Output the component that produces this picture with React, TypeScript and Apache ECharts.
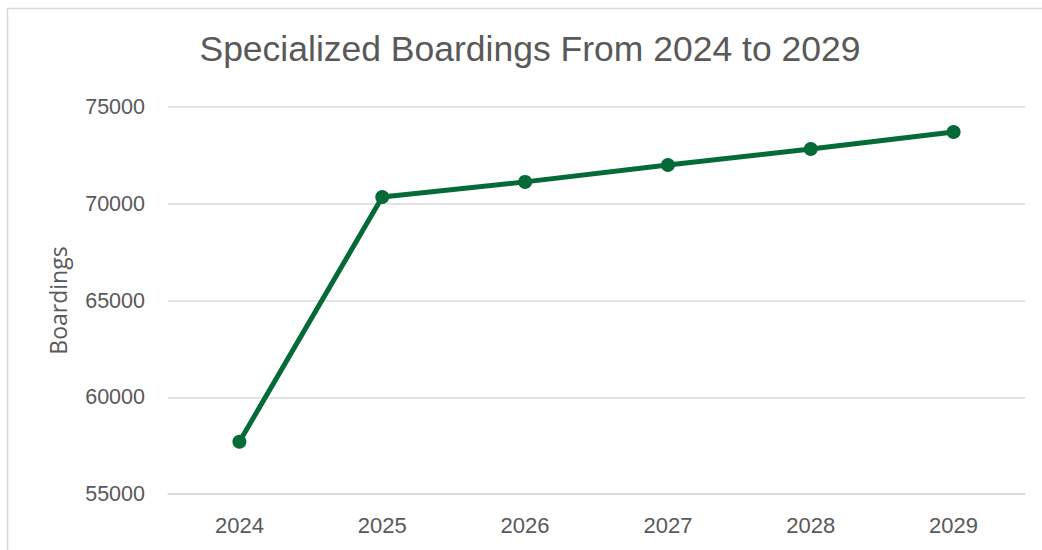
import React, { useEffect, useRef } from "react";
import * as echarts from "echarts";

const years = ["2024", "2025", "2026", "2027", "2028", "2029"];
const boardings = [57700, 70350, 71130, 72000, 72830, 73710];
const yTicks = { min: 55000, max: 75000, interval: 5000 };
const titleText = "Specialized Boardings From 2024 to 2029";
const yAxisName = "Boardings";

export default function App() {
  const ref = useRef<HTMLDivElement>(null);
  useEffect(() => {
    if (!ref.current) return;
    const chart = echarts.init(ref.current, null, { renderer: "svg" });
    const font = "'Liberation Sans', Arial, sans-serif";
    chart.setOption({
      animation: false,
      backgroundColor: "#ffffff",
      title: {
        text: titleText,
        left: 525,
        textAlign: "center",
        top: 26,
        textStyle: { fontFamily: font, fontSize: 35.5, fontWeight: "normal", color: "#595959" },
      },
      graphic: [
        {
          type: "rect",
          shape: { x: 7.5, y: 8.5, width: 1100, height: 600 },
          style: { fill: "none", stroke: "#d9d9d9", lineWidth: 1.5 },
          silent: true,
          z: 0,
        },
      ],
      grid: { left: 168, right: 17, top: 107, bottom: 56, containLabel: false },
      xAxis: {
        type: "category",
        data: years,
        boundaryGap: true,
        axisLine: { show: true, lineStyle: { color: "#d9d9d9", width: 1.5 } },
        axisTick: { show: false },
        axisLabel: { fontFamily: font, fontSize: 22, color: "#595959", margin: 20 },
      },
      yAxis: {
        type: "value",
        min: yTicks.min,
        max: yTicks.max,
        interval: yTicks.interval,
        name: yAxisName,
        nameLocation: "middle",
        nameGap: 99,
        nameRotate: 90,
        nameTextStyle: { fontFamily: "'Open Sans', sans-serif", fontSize: 23, color: "#595959" },
        axisLine: { show: false },
        axisTick: { show: false },
        axisLabel: {
          fontFamily: font,
          fontSize: 21.5,
          color: "#595959",
          margin: 23,
          formatter: (v: number) => String(v),
        },
        splitLine: { lineStyle: { color: "#d9d9d9", width: 1.5 } },
      },
      series: [
        {
          type: "line",
          data: boardings,
          symbol: "circle",
          symbolSize: 14,
          lineStyle: { color: "#046a38", width: 5 },
          itemStyle: { color: "#046a38" },
        },
      ],
    });
    return () => chart.dispose();
  }, []);
  return (
    <div
      ref={ref}
      style={{ position: "fixed", left: 0, top: 0, width: 1042, height: 550 }}
    />
  );
}
